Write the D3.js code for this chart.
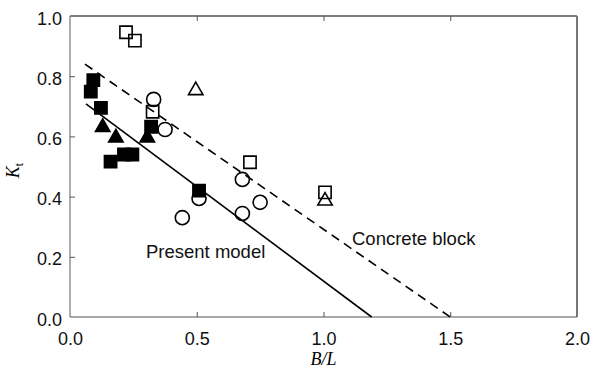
<!DOCTYPE html>
<html><head><meta charset="utf-8">
<script src="https://cdn.jsdelivr.net/npm/d3@7"></script>
<style>body{margin:0;background:#fff}svg{display:block}</style>
</head><body>
<script>
// data
const filledSquares = [[0.092,0.787],[0.082,0.749],[0.122,0.695],[0.16,0.516],[0.213,0.540],[0.246,0.540],[0.32,0.632],[0.509,0.42]];
const filledTriangles = [[0.129,0.634],[0.181,0.599],[0.305,0.599]];
const openCircles = [[0.33,0.723],[0.375,0.623],[0.68,0.457],[0.443,0.33],[0.509,0.394],[0.68,0.344],[0.75,0.381]];
const openSquares = [[0.221,0.946],[0.256,0.918],[0.326,0.682],[0.71,0.514],[1.006,0.414]];
const openTriangles = [[0.496,0.756],[1.006,0.389]];
const presentModel = [[0.063,0.708],[1.19,0.0]];
const concreteBlock = [[0.059,0.84],[1.5,0.0]];
const xTicks = [0,0.5,1.0,1.5,2.0];
const yTicks = [0,0.2,0.4,0.6,0.8,1.0];

const W=601,H=372;
const svg=d3.select("body").append("svg").attr("width",W).attr("height",H);
const x=d3.scaleLinear().domain([0,2]).range([70,577]);
const y=d3.scaleLinear().domain([0,1]).range([317,16]);
const font="Arial, 'Liberation Sans', sans-serif";
const serif="'Liberation Serif', 'Times New Roman', serif";

// frame
svg.append("line").attr("x1",70).attr("x2",577).attr("y1",16).attr("y2",16).attr("stroke","#000").attr("stroke-width",1.2);
svg.append("line").attr("x1",577).attr("x2",577).attr("y1",16).attr("y2",317).attr("stroke","#777").attr("stroke-width",2);
svg.append("line").attr("x1",70).attr("x2",70).attr("y1",16).attr("y2",317).attr("stroke","#777").attr("stroke-width",1.2);
svg.append("line").attr("x1",70).attr("x2",577).attr("y1",317).attr("y2",317).attr("stroke","#555").attr("stroke-width",1.2);

// axes
const xb=d3.axisBottom(x).tickValues(xTicks).tickFormat(d3.format(".1f")).tickSize(-5).tickPadding(15);
const gx=svg.append("g").attr("transform","translate(0,317)").call(xb);
gx.select(".domain").remove();
gx.selectAll(".tick line").filter(d=>d===0||d===2).remove();
gx.selectAll("text").attr("font-family",font).attr("font-size",18).attr("fill","#111");
gx.selectAll(".tick line").attr("stroke","#555");
const xt=d3.axisTop(x).tickValues(xTicks.filter(d=>d>0&&d<2)).tickFormat("").tickSize(-5);
const gxt=svg.append("g").attr("transform","translate(0,16)").call(xt);
gxt.select(".domain").remove();
gxt.selectAll(".tick line").attr("stroke","#555");

const yl=d3.axisLeft(y).tickValues(yTicks).tickFormat(d3.format(".1f")).tickSize(-5).tickPadding(8);
const gy=svg.append("g").attr("transform","translate(70,0)").call(yl);
gy.select(".domain").remove();
gy.selectAll(".tick line").filter(d=>d===0||d===1).remove();
gy.selectAll(".tick line").attr("stroke","#555");
gy.selectAll("text").attr("font-family",font).attr("font-size",18).attr("fill","#111").attr("dy","0.45em");

// axis titles
svg.append("text").attr("x",x(1)).attr("y",365).attr("text-anchor","middle")
  .attr("font-family",serif).attr("font-style","italic").attr("font-size",18).text("B/L");
const yt=svg.append("text").attr("transform",`translate(19,${y(0.5)+4}) rotate(-90)`).attr("text-anchor","middle")
  .attr("font-family",serif).attr("font-size",18);
yt.append("tspan").attr("font-style","italic").text("K");
yt.append("tspan").attr("font-size",12).attr("dy",4).text("t");

// lines
const line=d3.line().x(d=>x(d[0])).y(d=>y(d[1]));
svg.append("path").attr("d",line(presentModel)).attr("fill","none").attr("stroke","#000").attr("stroke-width",1.6);
svg.append("path").attr("d",line(concreteBlock)).attr("fill","none").attr("stroke","#000").attr("stroke-width",1.6).attr("stroke-dasharray","9,6");

// markers
const sq=d3.symbol().type(d3.symbolSquare).size(150);
const tri=d3.symbol().type(d3.symbolTriangle).size(90);
const cir=d3.symbol().type(d3.symbolCircle).size(155);
function pts(data,gen,fill,dy){
  svg.append("g").selectAll("path").data(data).join("path")
    .attr("d",gen).attr("transform",d=>`translate(${x(d[0])},${y(d[1])+(dy||0)})`)
    .attr("fill",fill?"#000":"#fff").attr("fill-opacity",fill?1:0).attr("stroke","#000").attr("stroke-width",1.6);
}
pts(openCircles,cir,false);
pts(openSquares,sq,false);
pts(openTriangles,tri,false,1);
pts(filledTriangles,tri,true,1);
pts(filledSquares,sq,true);

// labels
svg.append("text").attr("x",146).attr("y",258).attr("font-family",font).attr("font-size",18.5).attr("fill","#111").text("Present model");
svg.append("text").attr("x",352).attr("y",245).attr("font-family",font).attr("font-size",18.5).attr("fill","#111").text("Concrete block");
</script>
</body></html>
